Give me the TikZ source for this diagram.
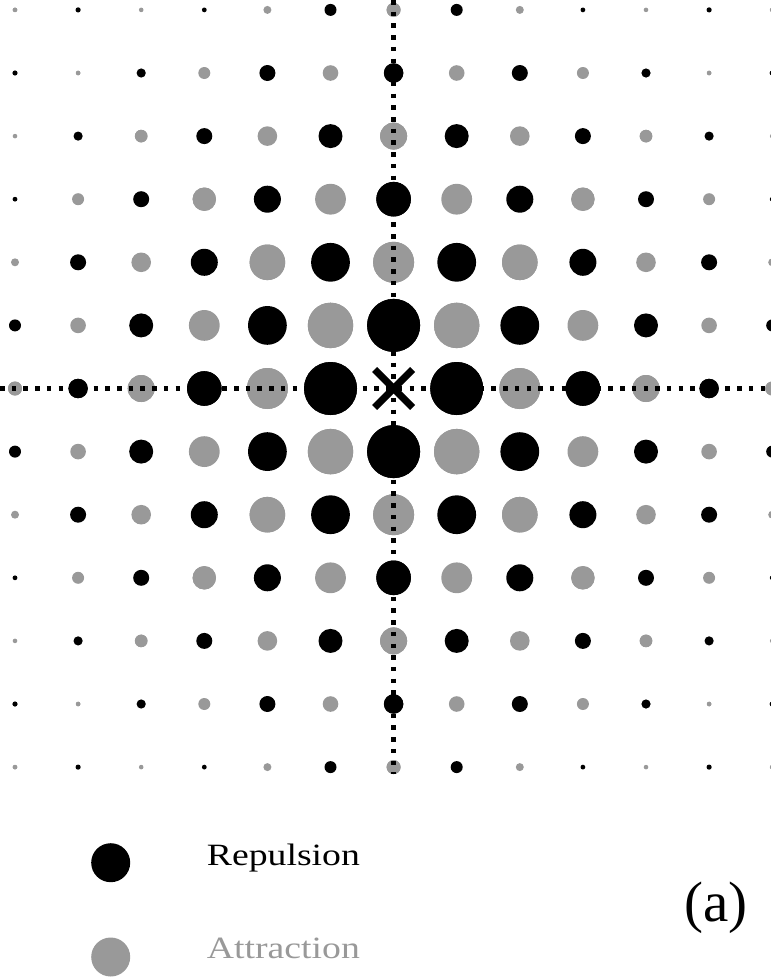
\documentclass[tikz,border=0pt]{standalone}
\usepackage{graphicx}
\usepackage{fontspec}
\setmainfont{Liberation Serif}
\definecolor{attr}{RGB}{153,153,153}
\tikzset{
  guide/.style={line width=4.5pt, dash pattern=on 4.5pt off 7.2pt},
  cross/.style={line width=7pt},
  legendtext/.style={anchor=base west, inner sep=0pt, font=\fontsize{31}{37}\selectfont},
}
\begin{document}
\begin{tikzpicture}[x=1pt,y=-1pt]
\useasboundingbox (0,0) rectangle (771,980);
\def\cx{393.6}
\def\cy{388.5}
\def\sp{63.1}
% dots: a/b/radius, 8-fold symmetric; colour by parity of a+b
\foreach \a/\b/\r in {1/0/26.5, 1/1/22.7, 2/0/20.5, 2/1/19.4, 2/2/17.8,
  3/0/17.3, 3/1/15.4, 3/2/13.5, 3/3/11.7,
  4/0/13.5, 4/1/12, 4/2/9.8, 4/3/8, 4/4/6.3,
  5/0/9.7, 5/1/7.8, 5/2/8, 5/3/6, 5/4/4.6, 5/5/2.3,
  6/0/7, 6/1/6, 6/2/4, 6/3/2.4, 6/4/2.3, 6/5/2.6, 6/6/2.3} {
  \pgfmathtruncatemacro\pty{mod(\a+\b,2)}
  \ifnum\pty=1 \def\col{black}\else\def\col{attr}\fi
  \foreach \sx in {-1,1} {
    \foreach \sy in {-1,1} {
      \fill[\col] (\cx+\sx*\a*\sp, \cy+\sy*\b*\sp) circle (\r);
      \fill[\col] (\cx+\sx*\b*\sp, \cy+\sy*\a*\sp) circle (\r);
    }
  }
}
% dotted guide lines
\coordinate (hl) at (0,\cy);
\coordinate (hr) at (771,\cy);
\coordinate (vt) at (\cx,0);
\coordinate (vb) at (\cx,774);
\draw[guide] (hl) -- (hr);
\draw[guide] (vt) -- (vb);
% central cross
\coordinate (c) at (\cx,\cy);
\draw[cross] ([shift={(-19,-19)}]c) -- ([shift={(19,19)}]c);
\draw[cross] ([shift={(-19,19)}]c) -- ([shift={(19,-19)}]c);
% legend
\fill[black] (110.7,862.7) circle (19.5);
\fill[attr] (110.7,957) circle (19.5);
\node[legendtext] (rep) at (206.7,865) {\resizebox{153pt}{\height}{Repulsion}};
\node[legendtext, text=attr] (att) at (206.7,958) {\resizebox{153pt}{\height}{Attraction}};
\node[anchor=base west, inner sep=0pt, font=\fontsize{57}{66}\selectfont] (lab) at (684,921) {(a)};
\end{tikzpicture}
\end{document}
